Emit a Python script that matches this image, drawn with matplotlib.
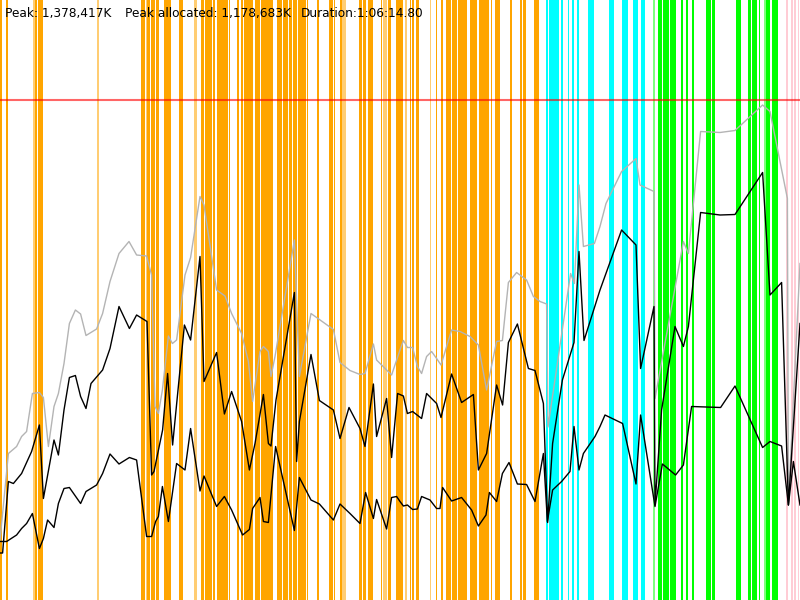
import matplotlib
matplotlib.use("Agg")
import matplotlib.pyplot as plt

# time in seconds, memory in % of the peak (1,378,417K)
duration = 4000
peak_pct = 100.0

hi_t = [0, 13, 42, 67, 108, 158, 197, 217, 270, 292, 320, 347, 377, 403, 430, 455,
        513, 550, 595, 647, 683, 735, 758, 770, 813, 838, 863, 922, 953, 1000, 1020,
        1083, 1122, 1158, 1208, 1247, 1275, 1317, 1342, 1355, 1380, 1472, 1483, 1497,
        1555, 1597, 1667, 1700, 1745, 1800, 1825, 1867, 1883, 1933, 1958, 1988, 2017,
        2037, 2063, 2108, 2133, 2158, 2183, 2205, 2258, 2308, 2367, 2392, 2433, 2483,
        2513, 2542, 2587, 2642, 2675, 2717, 2738, 2763, 2812, 2870, 2895, 2920, 3000,
        3108, 3180, 3203, 3270, 3275, 3308, 3375, 3417, 3442, 3503, 3600, 3675, 3813,
        3850, 3908, 3942, 4000]
hi_mem = [9.4, 9.4, 23.7, 23.3, 25.3, 29.7, 35.0, 20.3, 32.0, 29.0, 38.0, 44.5, 44.9,
          40.7, 38.3, 43.3, 46.0, 50.3, 58.7, 54.3, 57.0, 55.7, 25.0, 25.7, 34.0, 45.3,
          31.0, 55.0, 52.0, 68.7, 43.7, 49.5, 37.2, 41.7, 35.7, 26.0, 31.3, 41.1, 31.3,
          30.8, 40.0, 61.5, 27.7, 35.7, 49.1, 39.9, 38.0, 32.3, 38.5, 34.3, 30.7, 43.2,
          32.7, 40.3, 28.5, 41.3, 40.8, 37.3, 37.7, 36.3, 41.3, 40.3, 39.3, 36.5, 45.2,
          39.5, 41.1, 26.0, 29.3, 43.0, 39.0, 51.5, 55.2, 46.3, 45.9, 39.3, 15.5, 31.3,
          44.0, 51.5, 69.7, 51.9, 62.0, 74.0, 71.0, 46.3, 58.7, 19.0, 38.0, 54.7, 50.7,
          54.7, 77.5, 77.0, 77.1, 85.5, 61.0, 63.5, 19.0, 55.3]

lo_t = [0, 33, 83, 108, 133, 162, 197, 217, 238, 270, 292, 320, 347, 403, 430, 483,
        513, 550, 595, 647, 683, 733, 758, 778, 792, 812, 842, 883, 925, 953, 1000,
        1020, 1083, 1122, 1158, 1213, 1247, 1263, 1300, 1317, 1342, 1378, 1472, 1497,
        1555, 1597, 1667, 1700, 1750, 1800, 1828, 1867, 1883, 1933, 1958, 1983, 2000,
        2017, 2037, 2063, 2087, 2108, 2150, 2183, 2200, 2213, 2258, 2308, 2358, 2392,
        2430, 2447, 2483, 2512, 2545, 2587, 2633, 2675, 2717, 2737, 2763, 2808, 2850,
        2870, 2895, 2917, 2975, 3000, 3025, 3113, 3180, 3203, 3275, 3312, 3378, 3417,
        3458, 3603, 3675, 3813, 3850, 3908, 3942, 3967, 4000]
lo_mem = [11.7, 11.7, 13.0, 14.3, 15.3, 17.3, 10.3, 12.3, 16.0, 14.5, 19.3, 22.3, 22.5,
          19.3, 21.7, 23.0, 25.3, 29.2, 27.2, 28.5, 28.0, 12.7, 12.7, 15.7, 16.7, 22.7,
          15.7, 27.3, 26.0, 34.3, 21.8, 24.8, 18.7, 20.7, 18.0, 13.0, 14.1, 18.3, 20.5,
          15.7, 15.5, 30.7, 13.9, 24.5, 20.0, 19.2, 16.0, 19.2, 17.3, 15.3, 21.5, 16.3,
          20.1, 14.2, 20.5, 20.7, 19.7, 18.8, 19.0, 18.1, 18.2, 20.7, 20.0, 18.3, 18.3,
          22.5, 19.8, 20.5, 18.0, 14.8, 17.0, 21.5, 19.7, 25.3, 27.5, 23.2, 23.1, 19.7,
          29.3, 15.7, 22.0, 23.7, 25.7, 34.7, 26.0, 29.3, 32.7, 34.7, 37.0, 35.3, 23.2,
          37.0, 18.7, 27.2, 25.0, 27.0, 38.7, 38.5, 42.8, 30.5, 31.7, 30.8, 19.0, 27.7,
          19.0]

peak_t = [0, 13, 42, 83, 108, 133, 162, 197, 217, 242, 270, 292, 320, 347, 377, 403,
          430, 483, 513, 550, 595, 645, 683, 733, 758, 775, 792, 812, 842, 862, 883,
          925, 953, 1000, 1020, 1083, 1125, 1158, 1208, 1242, 1263, 1300, 1317, 1342,
          1355, 1375, 1472, 1497, 1555, 1667, 1700, 1750, 1800, 1825, 1867, 1883, 1958,
          2000, 2017, 2037, 2063, 2087, 2108, 2133, 2158, 2183, 2205, 2258, 2300, 2350,
          2392, 2433, 2483, 2512, 2542, 2583, 2633, 2667, 2700, 2733, 2740, 2853, 2872,
          2895, 2917, 2972, 3000, 3030, 3108, 3180, 3200, 3270, 3275, 3417, 3442, 3503,
          3600, 3675, 3813, 3850, 3937, 3942, 4000]
peak_mem = [12.0, 17.3, 29.3, 30.7, 32.7, 33.7, 41.3, 41.5, 40.5, 30.7, 38.7, 41.3,
            47.3, 55.3, 58.0, 57.2, 52.9, 54.2, 57.3, 63.7, 69.3, 71.7, 69.0, 68.8, 65.0,
            38.7, 37.3, 42.0, 52.8, 51.3, 52.0, 65.0, 68.5, 80.7, 79.0, 62.0, 60.8, 57.3,
            53.3, 47.7, 39.7, 49.7, 50.7, 49.7, 44.7, 48.7, 72.0, 44.7, 57.3, 54.1, 47.5,
            45.9, 45.1, 45.3, 51.2, 48.0, 45.0, 50.0, 51.9, 50.5, 50.5, 46.7, 45.3, 48.7,
            49.7, 48.3, 47.0, 54.0, 53.7, 52.7, 51.0, 42.0, 51.7, 51.9, 63.5, 65.5, 64.0,
            60.7, 59.7, 59.2, 34.6, 65.3, 63.3, 83.0, 70.7, 71.3, 74.7, 79.3, 85.7, 88.3,
            83.0, 81.7, 40.3, 71.7, 69.3, 93.7, 93.5, 93.9, 99.0, 97.7, 80.3, 19.0, 67.3]

# collection phases (start, end) in seconds
minor_gc = [(0, 10), (30, 38), (173, 187), (190, 217), (705, 725), (733, 750),
            (755, 775), (778, 795), (818, 855), (897, 913), (1005, 1020), (1025, 1060),
            (1063, 1075), (1085, 1142), (1145, 1150), (1183, 1197), (1205, 1217),
            (1222, 1263), (1277, 1300), (1305, 1363), (1383, 1410), (1415, 1442),
            (1447, 1460), (1463, 1483), (1488, 1530), (1537, 1542), (1585, 1597),
            (1645, 1667), (1670, 1677), (1700, 1710), (1795, 1808), (1813, 1828),
            (1840, 1867), (1905, 1910), (1938, 1955), (1980, 2013), (2052, 2057),
            (2062, 2070), (2080, 2093), (2180, 2187), (2203, 2213), (2230, 2248),
            (2252, 2257), (2262, 2287), (2290, 2333), (2352, 2387), (2395, 2447),
            (2453, 2462), (2473, 2500), (2550, 2560), (2600, 2608), (2615, 2630),
            (2670, 2695)]
minor_gc_short = [(165, 173), (485, 495), (728, 733), (972, 987), (1712, 1728),
                  (1915, 1937), (2027, 2033), (2150, 2157), (2348, 2352)]
major_gc = [(2730, 2738), (2747, 2797), (2805, 2815), (2838, 2847), (2860, 2870),
            (2885, 2895), (2940, 2972), (3047, 3070), (3110, 3140), (3167, 3192),
            (3205, 3223)]
full_gc = [(3288, 3310), (3313, 3328), (3332, 3347), (3350, 3363), (3367, 3378),
           (3403, 3413), (3428, 3440), (3460, 3468), (3530, 3555), (3560, 3575),
           (3678, 3705), (3742, 3753), (3762, 3787), (3793, 3802), (3832, 3848),
           (3858, 3888)]
full_gc_short = [(3265, 3273), (3822, 3830)]
compact = [(3930, 3942), (3957, 3965), (3970, 3978), (3988, 3997)]

fig = plt.figure(figsize=(8, 6), dpi=100)
ax = fig.add_axes([0, 0, 1, 1])

for spans, color, alpha in [(minor_gc, "#ffa500", 1.0), (minor_gc_short, "#ffa500", 0.55),
                            (major_gc, "#00ffff", 1.0), (full_gc, "#00ff00", 1.0),
                            (full_gc_short, "#00ff00", 0.5), (compact, "#ffc0cb", 0.8)]:
    for start, end in spans:
        ax.axvspan(start, end, color=color, alpha=alpha, lw=0)

ax.plot(peak_t, peak_mem, color="#b4b4b4", lw=1)
ax.plot(hi_t, hi_mem, color="black", lw=1)
ax.plot(lo_t, lo_mem, color="black", lw=1)
ax.axhline(peak_pct, color="red", alpha=0.6, lw=1.5)

ax.set_xlim(0, duration)
ax.set_ylim(0, 120)
ax.axis("off")

labels = [("Peak: 1,378,417K", 5), ("Peak allocated: 1,178,683K", 125),
          ("Duration:1:06:14.80", 301)]
for text, xpix in labels:
    fig.text(xpix / 800, 1 - 17 / 600, text, fontsize=8.75, color="black", va="baseline")

fig.savefig("out.png", dpi=100)
